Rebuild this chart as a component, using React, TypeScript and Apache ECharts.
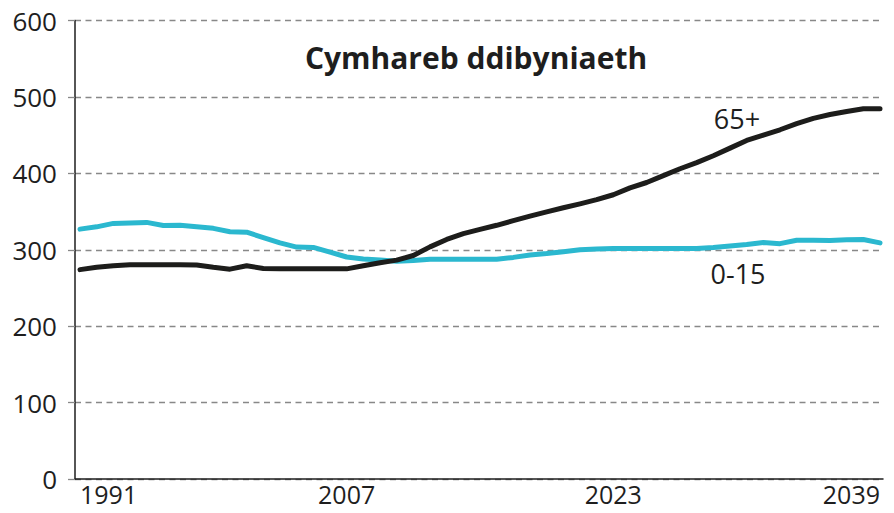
import React, { useEffect, useRef } from "react";
import * as echarts from "echarts";

const years = [
  1991, 1992, 1993, 1994, 1995, 1996, 1997, 1998, 1999, 2000,
  2001, 2002, 2003, 2004, 2005, 2006, 2007, 2008, 2009, 2010,
  2011, 2012, 2013, 2014, 2015, 2016, 2017, 2018, 2019, 2020,
  2021, 2022, 2023, 2024, 2025, 2026, 2027, 2028, 2029, 2030,
  2031, 2032, 2033, 2034, 2035, 2036, 2037, 2038, 2039,
];

const age0to15 = [
  327, 330, 334.5, 335, 335.8, 331.8, 332, 330, 328, 323.6,
  323, 316, 309, 303.5, 303, 297, 290.5, 288, 286.5, 285,
  286, 287.5, 287.5, 287.5, 287.5, 287.5, 290, 293, 295, 297.5,
  300, 301, 301.5, 301.5, 301.5, 301.5, 301.5, 301.5, 303, 305,
  307, 309.5, 308, 312.5, 312.5, 312, 313, 313.5, 309,
];

const age65plus = [
  274, 277, 279, 280.3, 280.3, 280.3, 280.3, 280, 277, 274.6,
  279, 275.5, 275, 275, 275, 275, 275, 279, 283, 286.4,
  292.5, 303.8, 313.5, 321, 326.6, 332, 338, 344, 349.5, 355,
  360, 365.5, 372, 381, 388, 397, 406, 414, 423, 433,
  443, 450, 457, 465, 472, 477, 481, 484.5, 484.5,
];

const xTickYears = [1991, 2007, 2023, 2039];
const chartTitle = "Cymhareb ddibyniaeth";
const label0to15 = "0-15";
const label65plus = "65+";

const FONT = "'Open Sans', 'Noto Sans', sans-serif";
const TEXT = "#1e1e1e";

export default function App() {
  const ref = useRef<HTMLDivElement>(null);

  useEffect(() => {
    if (!ref.current) return;
    const chart = echarts.init(ref.current, null, { renderer: "svg" });
    chart.setOption({
      animation: false,
      backgroundColor: "#ffffff",
      grid: { left: 75, right: 11, top: 20.5, bottom: 34, containLabel: false },
      xAxis: {
        type: "value",
        min: 1990.7,
        max: 2039.18,
        axisLine: { show: true, lineStyle: { color: TEXT, width: 1.5 } },
        axisTick: { show: false },
        splitLine: { show: false },
        axisLabel: {
          customValues: xTickYears,
          fontSize: 25,
          lineHeight: 20,
          fontFamily: FONT,
          color: TEXT,
          margin: 5,
          alignMinLabel: "left",
          alignMaxLabel: "right",
          formatter: (v: number) => String(v),
        },
      },
      yAxis: {
        type: "value",
        min: 0,
        max: 600,
        interval: 100,
        axisLine: { show: true, lineStyle: { color: TEXT, width: 1.5 } },
        axisTick: { show: true, length: 7, lineStyle: { color: "#888888", width: 1.3 } },
        splitLine: {
          show: true,
          lineStyle: { color: "#888888", width: 1.3, type: [6, 4.5] },
        },
        axisLabel: {
          fontSize: 26,
          fontFamily: FONT,
          color: TEXT,
          margin: 18,
        },
      },
      series: [
        {
          name: label0to15,
          type: "line",
          data: years.map((y, i) => [y, age0to15[i]]),
          showSymbol: false,
          symbol: "none",
          lineStyle: { color: "#2bb8cf", width: 5, cap: "round", join: "round" },
          z: 2,
        },
        {
          name: label65plus,
          type: "line",
          data: years.map((y, i) => [y, age65plus[i]]),
          showSymbol: false,
          symbol: "none",
          lineStyle: { color: "#1d1d1b", width: 5, cap: "round", join: "round" },
          z: 3,
        },
      ],
      graphic: [
        {
          type: "text",
          x: 476,
          y: 57,
          style: {
            text: chartTitle,
            font: `bold 30px ${FONT}`,
            fill: TEXT,
            textAlign: "center",
            textVerticalAlign: "middle",
          },
        },
        {
          type: "text",
          x: 737,
          y: 118,
          style: {
            text: label65plus,
            font: `27px ${FONT}`,
            fill: TEXT,
            textAlign: "center",
            textVerticalAlign: "middle",
          },
        },
        {
          type: "text",
          x: 738,
          y: 273,
          style: {
            text: label0to15,
            font: `27px ${FONT}`,
            fill: TEXT,
            textAlign: "center",
            textVerticalAlign: "middle",
          },
        },
      ],
    });
    return () => chart.dispose();
  }, []);

  return (
    <div
      ref={ref}
      style={{ position: "fixed", left: 0, top: 0, width: 894, height: 513 }}
    />
  );
}
